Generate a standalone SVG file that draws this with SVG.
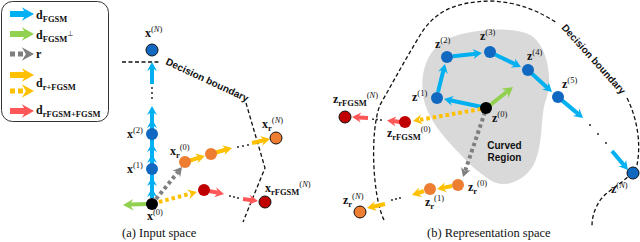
<svg xmlns="http://www.w3.org/2000/svg" xmlns:xlink="http://www.w3.org/1999/xlink" width="640" height="242" viewBox="0 0 640 242">
<style>
.v{font-family:"Liberation Serif",serif;font-weight:bold;font-size:12px;fill:#111}
.sp{font-weight:normal;font-size:8.5px}
.sb{font-weight:bold;font-size:8.5px}
.it{font-style:italic}
.db{font-family:"Liberation Sans",Arial,sans-serif;font-weight:bold;font-size:10px;fill:#111}
.cap{font-family:"Liberation Serif",serif;font-size:12.5px;fill:#111}
.bd{fill:none;stroke:#111;stroke-width:1.3;stroke-dasharray:4 2.5}
.sh{fill:none;stroke-width:4}
.dot{fill:#111}
.cb{stroke:#00b0f0}.cg{stroke:#92d050}.cy{stroke:#ffc000}.cr{stroke:#ff5757}.ck{stroke:#7f7f7f}
.dash{stroke-dasharray:3.5 3}
.nb{fill:#1068c0}.nk{fill:#000}.no{fill:#ed7d31}.nr{fill:#c00000}
.end{stroke:#111;stroke-width:1}
</style>
<defs>
<path id="h" d="M0,0 L-9,-5 L-6,0 L-9,5 Z"/>
</defs>

<!-- legend -->
<g id="legend">
<rect x="1.5" y="1.5" width="107" height="120" rx="11" fill="#fff" stroke="#333" stroke-width="1"/>
<line x1="10" y1="14" x2="26" y2="14" stroke="#00b0f0" stroke-width="6"/>
<use xlink:href="#h" fill="#00b0f0" transform="translate(34,14) scale(1.35)"/>
<line x1="10" y1="34" x2="26" y2="34" stroke="#92d050" stroke-width="6"/>
<use xlink:href="#h" fill="#92d050" transform="translate(34,34) scale(1.35)"/>
<line x1="10" y1="54" x2="26" y2="54" stroke="#7f7f7f" stroke-width="5" stroke-dasharray="5 3"/>
<use xlink:href="#h" fill="#7f7f7f" transform="translate(34,54) scale(1.35)"/>
<line x1="10" y1="75" x2="26" y2="75" stroke="#ffc000" stroke-width="6"/>
<use xlink:href="#h" fill="#ffc000" transform="translate(34,75) scale(1.35)"/>
<line x1="10" y1="91" x2="26" y2="91" stroke="#ffc000" stroke-width="5" stroke-dasharray="5 3"/>
<use xlink:href="#h" fill="#ffc000" transform="translate(34,91) scale(1.35)"/>
<line x1="10" y1="111" x2="26" y2="111" stroke="#ff5757" stroke-width="6"/>
<use xlink:href="#h" fill="#ff5757" transform="translate(34,111) scale(1.35)"/>
<text class="v" x="36" y="19" font-size="12.5">d<tspan class="sb" dy="3">FGSM</tspan></text>
<text class="v" x="36" y="39" font-size="12.5">d<tspan class="sb" dy="3">FGSM</tspan><tspan dy="-6" font-size="7" font-weight="normal" font-family="'DejaVu Sans',sans-serif" fill="#111">⊥</tspan></text>
<text class="v" x="36" y="58" font-size="12.5">r</text>
<text class="v" x="36" y="87" font-size="12.5">d<tspan class="sb" dy="3">r+FGSM</tspan></text>
<text class="v" x="36" y="114" font-size="12.5">d<tspan class="sb" dy="3">rFGSM+FGSM</tspan></text>
</g>

<!-- backgrounds / boundaries -->
<path id="curved-region" d="M423,95 C420,70 428,45 455,36 C478,29 515,26 532,36 C548,48 553,80 546,100 C540,115 544,140 535,162 C527,180 505,190 490,180 C478,172 470,165 458,152 C445,138 426,118 423,95 Z" fill="#d9d9d9"/>
<text class="db" x="504.5" y="149" text-anchor="middle" font-size="10.5">Curved</text>
<text class="db" x="504.5" y="161" text-anchor="middle" font-size="10.5">Region</text>

<g id="boundary-a">
<line class="bd" x1="122" y1="62" x2="160" y2="62"/>
<text class="db" transform="translate(165,64) rotate(25)">Decision boundary</text>
<polyline class="bd" points="246,103 265,168 243,222"/>
</g>
<g id="boundary-b">
<path class="bd" stroke-width="1.5" stroke-dasharray="5 3" d="M384,220 C372,195 370,130 380,105 C393,82 405,60 419,37 C433,13 452,2 490,1 C520,2 540,12 557,23"/>
<text class="db" transform="translate(561,28) rotate(48)">Decision boundary</text>
<path class="bd" stroke-width="1.5" stroke-dasharray="5 3" d="M627,98 C638,120 641,145 637,165 C630,180 610,188 601,199 C594,209 592,218 592,226"/>
</g>

<g id="connectors">
<!-- left: blue chain -->
<line class="sh cb" x1="152" y1="198" x2="152" y2="112"/>
<use xlink:href="#h" fill="#00b0f0" transform="translate(152,188) rotate(-90)"/>
<use xlink:href="#h" fill="#00b0f0" transform="translate(152,177) rotate(-90)"/>
<use xlink:href="#h" fill="#00b0f0" transform="translate(152,154) rotate(-90)"/>
<use xlink:href="#h" fill="#00b0f0" transform="translate(152,143) rotate(-90)"/>
<use xlink:href="#h" fill="#00b0f0" transform="translate(152,119) rotate(-90)"/>
<use xlink:href="#h" fill="#00b0f0" transform="translate(152,106) rotate(-90)"/>
<circle class="dot" cx="152" cy="88" r="0.9"/>
<circle class="dot" cx="152" cy="93" r="0.9"/>
<circle class="dot" cx="152" cy="98" r="0.9"/>
<line class="sh cb" x1="152" y1="84" x2="152" y2="68"/>
<use xlink:href="#h" fill="#00b0f0" transform="translate(152,62) rotate(-90)"/>
<!-- left: green -->
<line class="sh cg" stroke-width="4.5" x1="148" y1="204" x2="130" y2="204.5"/>
<use xlink:href="#h" fill="#92d050" transform="translate(123,205) rotate(178) scale(1.15)"/>
<!-- left: gray dotted -->
<line class="sh ck dash" x1="156" y1="199" x2="178" y2="172"/>
<use xlink:href="#h" fill="#7f7f7f" transform="translate(182,167) rotate(-50.7)"/>
<!-- left: yellow dotted -->
<line class="sh cy dash" x1="159" y1="202" x2="191" y2="193.5"/>
<use xlink:href="#h" fill="#ffc000" transform="translate(197,192) rotate(-14.4)"/>
<!-- left: yellow chain -->
<line class="sh cy" x1="190" y1="160.5" x2="199" y2="157.6"/>
<use xlink:href="#h" fill="#ffc000" transform="translate(205,156) rotate(-14.9)"/>
<line class="sh cy" x1="216" y1="152.5" x2="226" y2="149.5"/>
<use xlink:href="#h" fill="#ffc000" transform="translate(232,148) rotate(-14)"/>
<circle class="dot" cx="238" cy="147" r="0.9"/>
<circle class="dot" cx="243" cy="146" r="0.9"/>
<circle class="dot" cx="248" cy="145" r="0.9"/>
<line class="sh cy" x1="252" y1="143" x2="264" y2="140.3"/>
<use xlink:href="#h" fill="#ffc000" transform="translate(270,139) rotate(-12.5)"/>
<!-- left: red chain -->
<line class="sh cr" x1="209" y1="191" x2="218" y2="192.8"/>
<use xlink:href="#h" fill="#ff5757" transform="translate(224,194) rotate(11.3)"/>
<circle class="dot" cx="230" cy="196" r="0.9"/>
<circle class="dot" cx="234" cy="197" r="0.9"/>
<circle class="dot" cx="238" cy="198" r="0.9"/>
<line class="sh cr" x1="243" y1="199" x2="252" y2="200.2"/>
<use xlink:href="#h" fill="#ff5757" transform="translate(258,201) rotate(7.6)"/>

<!-- right: blue chain -->
<line class="sh cb" x1="482" y1="107" x2="450" y2="100.3"/>
<use xlink:href="#h" fill="#00b0f0" transform="translate(444,99) rotate(-167.9)"/>
<line class="sh cb" x1="438" y1="92" x2="443.6" y2="69.8"/>
<use xlink:href="#h" fill="#00b0f0" transform="translate(445,64) rotate(-76.8)"/>
<line class="sh cb" x1="453" y1="56.3" x2="476" y2="53.7"/>
<use xlink:href="#h" fill="#00b0f0" transform="translate(482,53) rotate(-6.5)"/>
<line class="sh cb" x1="495" y1="54.5" x2="515.6" y2="64.4"/>
<use xlink:href="#h" fill="#00b0f0" transform="translate(521,67) rotate(25.8)"/>
<line class="sh cb" x1="532" y1="73.7" x2="547.6" y2="88"/>
<use xlink:href="#h" fill="#00b0f0" transform="translate(552,92) rotate(42.5)"/>
<line class="sh cb" x1="562" y1="100.4" x2="578.4" y2="114.1"/>
<use xlink:href="#h" fill="#00b0f0" transform="translate(583,118) rotate(40)"/>
<circle class="dot" cx="590" cy="125" r="0.9"/>
<circle class="dot" cx="598" cy="134" r="0.9"/>
<circle class="dot" cx="606" cy="143" r="0.9"/>
<line class="sh cb" x1="612" y1="151" x2="624.1" y2="165.4"/>
<use xlink:href="#h" fill="#00b0f0" transform="translate(628,170) rotate(49.9)"/>
<!-- right: green -->
<line class="sh cg" stroke-width="4.5" x1="489" y1="106" x2="507.5" y2="91.3"/>
<use xlink:href="#h" fill="#92d050" transform="translate(513,87) rotate(-37.9) scale(1.15)"/>
<!-- right: yellow dotted -->
<line class="sh cy dash" x1="481" y1="109" x2="419" y2="120"/>
<use xlink:href="#h" fill="#ffc000" transform="translate(413,121) rotate(170)"/>
<!-- right: red chain -->
<line class="sh cr" x1="400" y1="122" x2="393" y2="121"/>
<use xlink:href="#h" fill="#ff5757" transform="translate(387,120.5) rotate(-174)"/>
<circle class="dot" cx="381" cy="120" r="0.9"/>
<circle class="dot" cx="377" cy="119.5" r="0.9"/>
<circle class="dot" cx="373" cy="119.2" r="0.9"/>
<line class="sh cr" x1="368" y1="118" x2="358" y2="117.4"/>
<use xlink:href="#h" fill="#ff5757" transform="translate(352,117) rotate(-176.4)"/>
<!-- right: gray dotted -->
<line class="sh ck dash" x1="485" y1="112" x2="465" y2="171.3"/>
<use xlink:href="#h" fill="#7f7f7f" transform="translate(463,177) rotate(108.4)"/>
<!-- right: yellow chain -->
<line class="sh cy" x1="452" y1="186" x2="443" y2="187.9"/>
<use xlink:href="#h" fill="#ffc000" transform="translate(437,189) rotate(169.2)"/>
<line class="sh cy" x1="424" y1="191" x2="417.7" y2="193.1"/>
<use xlink:href="#h" fill="#ffc000" transform="translate(412,195) rotate(161.6)"/>
<circle class="dot" cx="400" cy="198" r="0.9"/>
<circle class="dot" cx="396" cy="199" r="0.9"/>
<circle class="dot" cx="392" cy="200" r="0.9"/>
<line class="sh cy" x1="385" y1="204" x2="372.9" y2="206.7"/>
<use xlink:href="#h" fill="#ffc000" transform="translate(367,208) rotate(167.5)"/>
</g>

<!-- left nodes -->
<g id="x0"><circle class="nk" cx="152" cy="204" r="6"/><text class="v" x="147" y="220">x<tspan class="sp" dy="-5">(0)</tspan></text></g>
<g id="x1"><circle class="nb" cx="152" cy="169" r="6"/><text class="v" x="127" y="173">x<tspan class="sp" dy="-5">(1)</tspan></text></g>
<g id="x2"><circle class="nb" cx="152" cy="134" r="6"/><text class="v" x="127" y="138">x<tspan class="sp" dy="-5">(2)</tspan></text></g>
<g id="xN"><circle class="nb end" cx="152" cy="50" r="6"/><text class="v" x="145" y="37">x<tspan class="sp" dy="-5">(<tspan class="it">N</tspan>)</tspan></text></g>
<g id="xr0"><circle class="no" cx="185" cy="162" r="6"/><text class="v" x="170" y="155">x<tspan class="sb" dy="3">r</tspan><tspan class="sp" dy="-8">(0)</tspan></text></g>
<g id="xr1"><circle class="no" cx="211" cy="154" r="6"/></g>
<g id="xrN"><circle class="no end" cx="276" cy="138" r="6"/><text class="v" x="262" y="128">x<tspan class="sb" dy="3">r</tspan><tspan class="sp" dy="-8">(<tspan class="it">N</tspan>)</tspan></text></g>
<g id="xrf1"><circle class="nr" cx="204" cy="190" r="6"/></g>
<g id="xrfN"><circle class="nr end" cx="265" cy="202" r="6"/><text class="v" x="265" y="192">x<tspan class="sb" dy="3">rFGSM</tspan><tspan class="sp" dy="-8">(<tspan class="it">N</tspan>)</tspan></text></g>

<!-- right nodes -->
<g id="z0"><circle class="nk" cx="486" cy="108" r="6"/><text class="v" x="492" y="122">z<tspan class="sp" dy="-5">(0)</tspan></text></g>
<g id="z1"><circle class="nb" cx="437" cy="98" r="6"/><text class="v" x="412" y="101">z<tspan class="sp" dy="-5">(1)</tspan></text></g>
<g id="z2"><circle class="nb" cx="447" cy="57" r="6"/><text class="v" x="435" y="48">z<tspan class="sp" dy="-5">(2)</tspan></text></g>
<g id="z3"><circle class="nb" cx="490" cy="52" r="6"/><text class="v" x="480" y="40">z<tspan class="sp" dy="-5">(3)</tspan></text></g>
<g id="z4"><circle class="nb" cx="528" cy="70" r="6"/><text class="v" x="527" y="60">z<tspan class="sp" dy="-5">(4)</tspan></text></g>
<g id="z5"><circle class="nb" cx="558" cy="97" r="6"/><text class="v" x="562" y="88">z<tspan class="sp" dy="-5">(5)</tspan></text></g>
<g id="zN"><circle class="nb end" cx="633" cy="173" r="6"/><text class="v" x="611" y="193">z<tspan class="sp" dy="-5">(<tspan class="it">N</tspan>)</tspan></text></g>
<g id="zrf0"><circle class="nr" cx="405" cy="122" r="6"/><text class="v" x="387" y="137">z<tspan class="sb" dy="3">rFGSM</tspan><tspan class="sp" dy="-8">(0)</tspan></text></g>
<g id="zrfN"><circle class="nr end" cx="345" cy="117" r="6"/><text class="v" x="333" y="103">z<tspan class="sb" dy="3">rFGSM</tspan><tspan class="sp" dy="-8">(<tspan class="it">N</tspan>)</tspan></text></g>
<g id="zr0"><circle class="no" cx="458" cy="185" r="6"/><text class="v" x="468" y="191">z<tspan class="sb" dy="3">r</tspan><tspan class="sp" dy="-8">(0)</tspan></text></g>
<g id="zr1"><circle class="no" cx="430" cy="189" r="6"/><text class="v" x="425" y="206">z<tspan class="sb" dy="3">r</tspan><tspan class="sp" dy="-8">(1)</tspan></text></g>
<g id="zrN"><circle class="no end" cx="360" cy="212" r="6"/><text class="v" x="343" y="204">z<tspan class="sb" dy="3">r</tspan><tspan class="sp" dy="-8">(<tspan class="it">N</tspan>)</tspan></text></g>

<text class="cap" x="122" y="237">(a) Input space</text>
<text class="cap" x="427" y="237">(b) Representation space</text>
</svg>
